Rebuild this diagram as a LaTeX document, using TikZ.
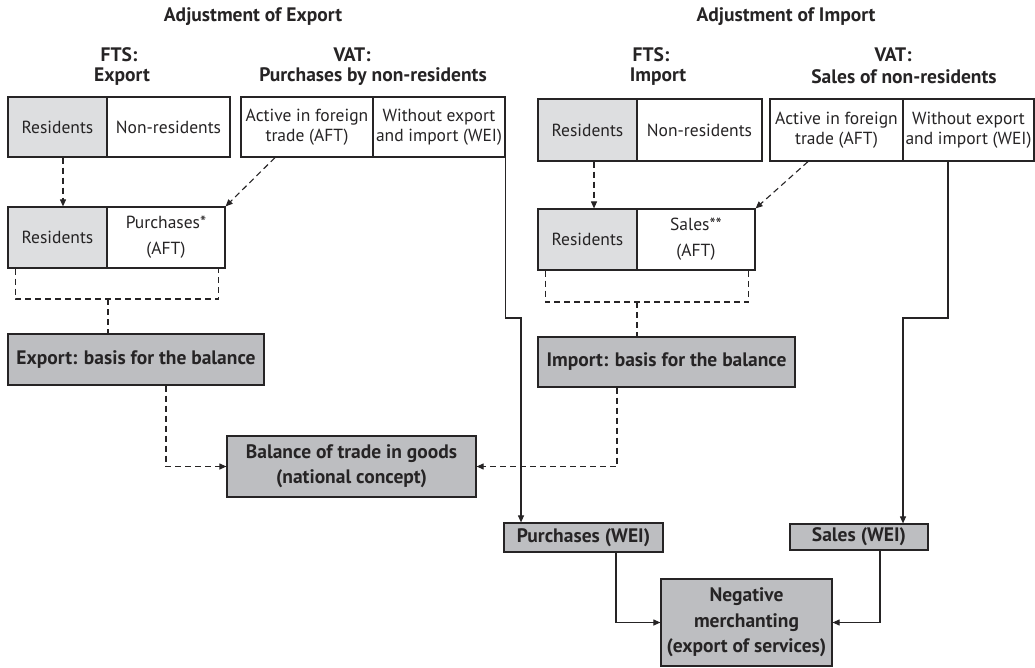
\documentclass[tikz,border=0pt]{standalone}
\usepackage{fontspec}
\setmainfont{PT Sans}
\usetikzlibrary{arrows.meta,calc}
\definecolor{lg}{RGB}{221,222,224}
\definecolor{dg}{RGB}{189,190,193}
\definecolor{ink}{RGB}{38,36,37}
\tikzset{
 bx/.style={draw=ink, line width=1.2pt, inner sep=0pt, text=ink, align=center, font=\fontsize{17.5}{20}\selectfont},
 lbox/.style={bx, fill=lg},
 wbox/.style={bx, fill=white},
 dbox/.style={bx, fill=dg, font=\fontsize{19.5}{25}\selectfont\bfseries},
 ttl/.style={text=ink, font=\fontsize{19.5}{22}\selectfont\bfseries, inner sep=0pt},
 con/.style={draw=ink, line width=1.1pt, -{Triangle[length=7pt,width=6pt]}},
 dsh/.style={con, dash pattern=on 6pt off 4pt},
 dshn/.style={draw=ink, line width=1.1pt, dash pattern=on 6pt off 4pt},
}
\begin{document}
\begin{tikzpicture}[x=1pt,y=-1pt]
\useasboundingbox[fill=white] (0,0) rectangle (1035,668);
% titles
\node[ttl] (tE) at (253,17) {Adjustment of Export};
\node[ttl] (tI) at (786,17) {Adjustment of Import};
\node[ttl] (fts1a) at (119,55) {FTS:};
\node[ttl] (fts1b) at (122,77) {Export};
\node[ttl] (vat1a) at (352,55) {VAT:};
\node[ttl] (vat1b) at (373,77) {Purchases by non-residents};
\node[ttl] (fts2a) at (651,55) {FTS:};
\node[ttl] (fts2b) at (658,77) {Import};
\node[ttl] (vat2a) at (893,55) {VAT:};
\node[ttl] (vat2b) at (904,77) {Sales of non-residents};
% top row left
\node[lbox, minimum width=99, minimum height=60] (resL) at (57.5,127) {Residents};
\node[wbox, minimum width=123, minimum height=60] (nonL) at (168.5,127) {Non-residents};
\node[wbox, minimum width=132, minimum height=60] (aftL) at (307,127) {Active in foreign\\trade (AFT)};
\node[wbox, minimum width=132, minimum height=60] (weiL) at (439,127) {Without export\\and import (WEI)};
% top row right
\node[lbox, minimum width=99, minimum height=62] (resR) at (587.5,130) {Residents};
\node[wbox, minimum width=125, minimum height=62] (nonR) at (699.5,130) {Non-residents};
\node[wbox, minimum width=133, minimum height=62] (aftR) at (836.5,130) {Active in foreign\\trade (AFT)};
\node[wbox, minimum width=131, minimum height=62] (weiR) at (968.5,130) {Without export\\and import (WEI)};
% second row
\node[lbox, minimum width=99, minimum height=61] (res2L) at (57.5,237.5) {Residents};
\node[wbox, minimum width=118, minimum height=61, font=\fontsize{17.5}{26}\selectfont] (purL) at (166,237.5) {Purchases*\\(AFT)};
\node[lbox, minimum width=99, minimum height=61] (res2R) at (587.5,239.5) {Residents};
\node[wbox, minimum width=118, minimum height=61, font=\fontsize{17.5}{26}\selectfont] (salR) at (696,239.5) {Sales**\\(AFT)};
% dark boxes
\node[dbox, minimum width=256, minimum height=51] (expL) at (136,359.5) {Export: basis for the balance};
\node[dbox, minimum width=257, minimum height=50] (impR) at (666.5,362) {Import: basis for the balance};
\node[dbox, minimum width=249, minimum height=61] (bal) at (351.5,466.5) {Balance of trade in goods\\(national concept)};
\node[dbox, minimum width=159, minimum height=29] (pw) at (583.5,537.5) {Purchases (WEI)};
\node[dbox, minimum width=138, minimum height=26] (sw) at (859,537) {Sales (WEI)};
\node[dbox, minimum width=171, minimum height=87, font=\fontsize{19.5}{25.5}\selectfont\bfseries] (neg) at (746.5,622.5) {Negative\\merchanting\\(export of services)};
% coordinates
\coordinate (brL) at (108,299);
\coordinate (brR) at (637,302);
\coordinate (jogL) at (521,318);
\coordinate (jogR) at (903,318);
% connectors
\draw[dsh] ([xshift=5.5pt]resL.south) -- ([xshift=5.5pt]res2L.north);
\draw[dsh] ([xshift=6.5pt]resR.south) -- ([xshift=6.5pt]res2R.north);
\draw[dsh] ([xshift=-32pt]aftL.south) -- (purL.north east);
\draw[dsh] ([xshift=-28.5pt]aftR.south) -- (salR.north east);
\draw[dshn] ([xshift=8pt]res2L.south west) |- (brL) -| ([xshift=-7pt]purL.south east);
\draw[dshn] (brL) -- (brL |- expL.north);
\draw[dshn] ([xshift=8pt]res2R.south west) |- (brR) -| ([xshift=-7pt]salR.south east);
\draw[dshn] (brR) -- (brR |- impR.north);
\draw[con] (weiL.south east) |- (jogL) -- (jogL |- pw.north);
\draw[con] ([xshift=-20.5pt]weiR.south) |- (jogR) -- (jogR |- sw.north);
\draw[dsh] ([xshift=30pt]expL.south) |- (bal.west);
\draw[dsh] ([xshift=-49.5pt]impR.south) |- (bal.east);
\draw[con] ([xshift=32.5pt]pw.south) |- (neg.west);
\draw[con] ([xshift=21pt]sw.south) |- (neg.east);
\end{tikzpicture}
\end{document}
